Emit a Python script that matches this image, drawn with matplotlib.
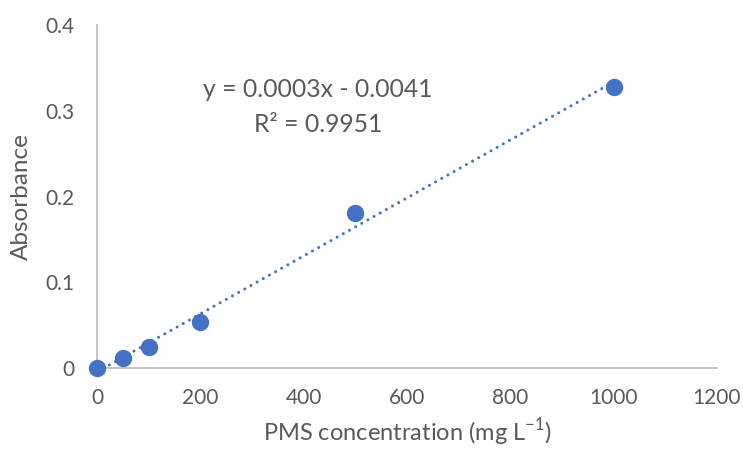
import numpy as np
import matplotlib
matplotlib.use("Agg")
import matplotlib.pyplot as plt

conc = [0, 50, 100, 200, 500, 1000]
absorbance = [0.0, 0.0124, 0.0245, 0.0543, 0.1807, 0.328]
x_ticks = [0, 200, 400, 600, 800, 1000, 1200]
y_ticks = [0, 0.1, 0.2, 0.3, 0.4]
y_tick_labels = ["0", "0.1", "0.2", "0.3", "0.4"]
eq_text = "y = 0.0003x - 0.0041"
r2_text = "R² = 0.9951"

plt.rcParams['font.family'] = ['Lato', 'DejaVu Sans']
blue = "#4472C4"
gray_text = "#595959"

fig = plt.figure(figsize=(7.43, 4.51), dpi=100)
ax = fig.add_axes([0.1306, 0.1834, 0.8344, 0.7612])

slope, intercept = np.polyfit(conc, absorbance, 1)
xl = np.array([min(conc), max(conc)])
ax.plot(xl, slope * xl + intercept, color=blue, linewidth=2.2,
        linestyle=(0, (0.01, 2.3)), dash_capstyle='round', zorder=2)
ax.plot(conc, absorbance, 'o', color=blue, markersize=11.5, zorder=3,
        clip_on=False)

ax.set_xlim(0, 1200)
ax.set_ylim(0, 0.4)
ax.set_xticks(x_ticks)
ax.set_yticks(y_ticks)
ax.set_yticklabels(y_tick_labels)
ax.tick_params(length=0, labelsize=15, colors=gray_text)
ax.tick_params(axis='x', pad=14)
ax.tick_params(axis='y', pad=16)

for s in ['top', 'right']:
    ax.spines[s].set_visible(False)
for s in ['left', 'bottom']:
    ax.spines[s].set_color('#BFBFBF')
    ax.spines[s].set_linewidth(1.3)

ax.set_xlabel("PMS concentration (mg L$^{\\mathregular{-1}}$)", fontsize=17,
              color=gray_text, labelpad=6)
ax.set_ylabel("Absorbance", fontsize=17.5, color=gray_text, labelpad=10)

ax.text(0.356, 0.811, eq_text, transform=ax.transAxes, fontsize=17.8,
        color=gray_text, ha='center', va='center')
ax.text(0.356, 0.709, r2_text, transform=ax.transAxes, fontsize=17.8,
        color=gray_text, ha='center', va='center')

fig.savefig("out.png", dpi=100)
